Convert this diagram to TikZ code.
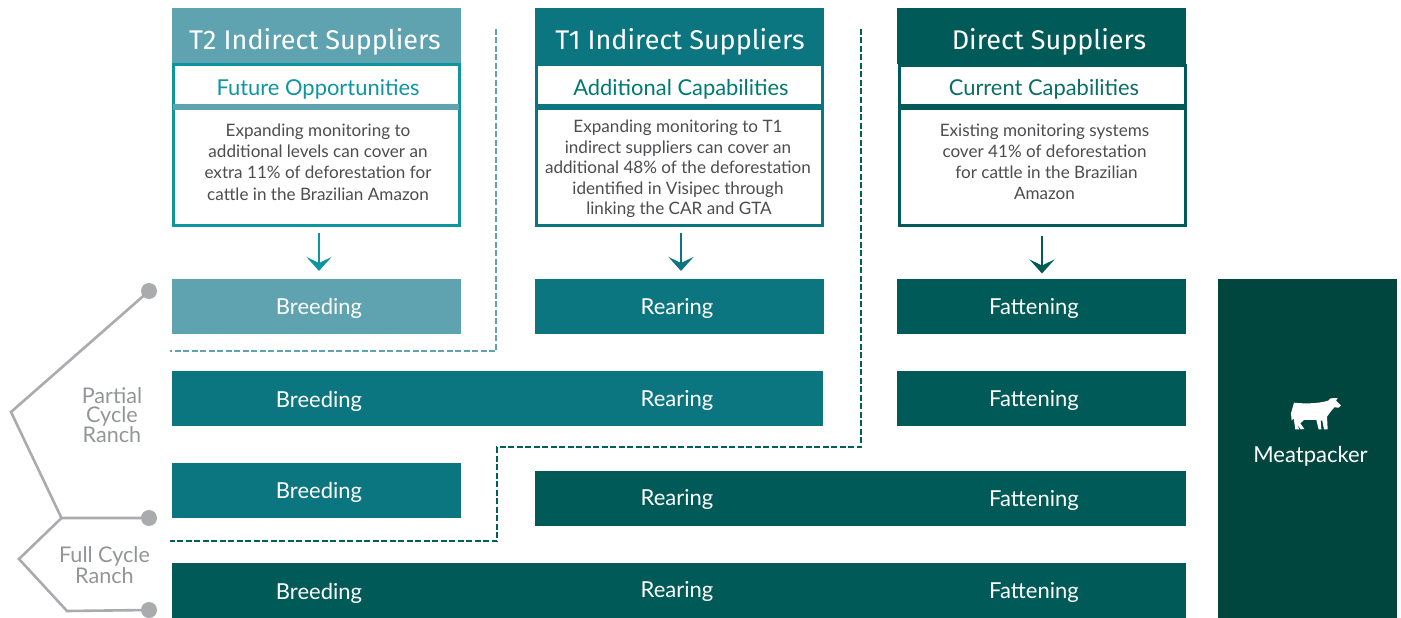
\documentclass[tikz,border=0pt]{standalone}
\usepackage{fontspec}
\setmainfont{Lato}
\newfontfamily\headfont{Fira Sans}
\usetikzlibrary{arrows.meta,calc}
\definecolor{ctwo}{HTML}{5EA3AF}
\definecolor{ctwoline}{HTML}{0E96A0}
\definecolor{cone}{HTML}{0B7580}
\definecolor{cdir}{HTML}{005A57}
\definecolor{cmeat}{HTML}{00463F}
\definecolor{cgray}{HTML}{A9ABAE}
\definecolor{cgraytxt}{HTML}{939598}
\definecolor{ctext}{HTML}{4D4D4F}
\definecolor{csubone}{HTML}{007A70}
\definecolor{csubdir}{HTML}{0A6E68}
\tikzset{
  x=1pt,y=-1pt,
  head/.style={fill=#1,minimum width=289pt,minimum height=56pt,inner sep=0pt,outer sep=0pt},
  headtxt/.style={text=white,font=\headfont\fontsize{27}{30}\selectfont,inner sep=0pt},
  frame/.style={draw=#1,line width=3pt,fill=white,minimum width=286pt,minimum height=160pt,inner sep=0pt,outer sep=0pt},
  divider/.style={draw=#1,line width=6pt},
  subtxt/.style={text=#1,font=\fontsize{21.9}{24}\selectfont,inner sep=0pt},
  bodytxt/.style={text=ctext,align=center,font=\fontsize{17.1}{21.2}\selectfont,inner sep=0pt},
  bar/.style={fill=#1,minimum height=55pt,inner sep=0pt,outer sep=0pt},
  bartxt/.style={text=white,font=\fontsize{22}{24}\selectfont,inner sep=0pt},
  downarr/.style={draw=#1,line width=2.8pt,-{Stealth[length=14pt,width=25pt,inset=6pt]}},
  dashline/.style={draw=#1,line width=2.8pt,dash pattern=on 6pt off 2.5pt},
  ranch/.style={draw=cgray,line width=2.6pt,line join=miter},
  dot/.style={circle,fill=cgray,minimum size=16pt,inner sep=0pt,outer sep=0pt},
  ranchtxt/.style={text=cgraytxt,align=center,font=\fontsize{21.6}{19}\selectfont,inner sep=0pt},
}
\begin{document}
\begin{tikzpicture}
\useasboundingbox (0,0) rectangle (1401,618);
% column headers
\node[head=ctwo] (hA) at (316.5,36) {};
\node[head=cone] (hB) at (679.5,36) {};
\node[head=cdir] (hC) at (1041.5,36) {};
\node[headtxt] (htA) at (315,41.5) {T2 Indirect Suppliers};
\node[headtxt] (htB) at (680,41.5) {T1 Indirect Suppliers};
\node[headtxt] (htC) at (1049,41.5) {Direct Suppliers};
% frames
\node[frame=ctwoline] (fA) at (316,145) {};
\node[frame=cone] (fB) at (679,145) {};
\node[frame=cdir] (fC) at (1042.5,145.5) {};
\draw[divider=ctwo] (fA.west |- 0,107) -- (fA.east |- 0,107);
\draw[divider=cone] (fB.west |- 0,107) -- (fB.east |- 0,107);
\draw[divider=cdir] (fC.west |- 0,107) -- (fC.east |- 0,107);
\node[subtxt=ctwoline] (sA) at (318,89.5) {Future Opportunities};
\node[subtxt=csubone] (sB) at (681,89.5) {Additional Capabilities};
\node[subtxt=csubdir] (sC) at (1044,89.5) {Current Capabilities};
\node[bodytxt] (tA) at (318,162) {Expanding monitoring to\\additional levels can cover an\\extra 11\% of deforestation for\\cattle in the Brazilian Amazon};
\node[bodytxt,font=\fontsize{17.1}{20.4}\selectfont] (tB) at (678,169) {Expanding monitoring to T1\\indirect suppliers can cover an\\additional 48\% of the deforestation\\identified in Visipec through\\\hspace*{2pt}linking the CAR and GTA};
\node[bodytxt] (tC) at (1044.5,162) {Existing monitoring systems\\cover 41\% of deforestation\\\hspace*{4pt}for cattle in the Brazilian\\Amazon};
% bars
\node[bar=ctwo,minimum width=289pt] (b1A) at (316.5,306.5) {};
\node[bar=cone,minimum width=289pt] (b1B) at (679.5,306.5) {};
\node[bar=cdir,minimum width=289pt] (b1C) at (1041.5,306.5) {};
\node[bar=cone,minimum width=651pt] (b2A) at (497.5,398.5) {};
\node[bar=cdir,minimum width=289pt] (b2C) at (1041.5,398.5) {};
\node[bar=cone,minimum width=289pt] (b3A) at (316.5,490.5) {};
\node[bar=cdir,minimum width=651pt] (b3B) at (860.5,498.5) {};
\node[bar=cdir,minimum width=1014pt] (b4) at (679,590.5) {};
\node[fill=cmeat,minimum width=179pt,minimum height=339pt,inner sep=0pt,outer sep=0pt] (meat) at (1307.5,448.5) {};
% bar labels
\node[bartxt] (l1A) at (319,308.5) {Breeding};
\node[bartxt] (l1B) at (677,308.5) {Rearing};
\node[bartxt] (l1C) at (1034,308.5) {Fattening};
\node[bartxt] (l2A) at (319,401.5) {Breeding};
\node[bartxt] (l2B) at (677,400.5) {Rearing};
\node[bartxt] (l2C) at (1034,400.5) {Fattening};
\node[bartxt] (l3A) at (319,492.5) {Breeding};
\node[bartxt] (l3B) at (677,499.5) {Rearing};
\node[bartxt] (l3C) at (1034,500.5) {Fattening};
\node[bartxt] (l4A) at (319,593.5) {Breeding};
\node[bartxt] (l4B) at (677,591.5) {Rearing};
\node[bartxt] (l4C) at (1034,592.5) {Fattening};
\node[bartxt] (lM) at (1310.5,456.5) {Meatpacker};
% cow
\begin{scope}[shift={(1200,370)},x=0.3333pt,y=-0.3333pt]
\fill[white] (282,98) .. controls (310,101) and (350,102) .. (385,92) -- (392,85) -- (413,84) -- (408,92) -- (423,106) -- (416,113) -- (403,112) -- (392,125) -- (381,140) -- (383,178) -- (372,178) -- (367,152) -- (362,152) -- (364,178) -- (356,178) -- (349,150) -- (312,150) -- (301,160) -- (313,177) -- (302,178) -- (290,160) -- (298,178) -- (286,178) -- (281,145) -- (275,152) -- (273,130) -- cycle;
\end{scope}
% arrows
\draw[downarr=ctwoline] ([xshift=3pt,yshift=-8pt]fA.south) -- ([xshift=2.5pt,yshift=8pt]b1A.north);
\draw[downarr=cone] ([xshift=2pt,yshift=-8pt]fB.south) -- ([xshift=1.5pt,yshift=8pt]b1B.north);
\draw[downarr=cdir] ([xshift=-.5pt,yshift=-10pt]fC.south) -- ([xshift=.5pt,yshift=5.5pt]b1C.north);
% dashed boundaries
\coordinate (dAs) at (496,29);
\coordinate (dAc) at (496,351);
\coordinate (dAe) at (170,351);
\coordinate (dBs) at (861,29);
\coordinate (dBc) at (861,447);
\coordinate (dBd) at (497,447);
\coordinate (dBf) at (497,541);
\coordinate (dBe) at (170,541);
\draw[dashline=ctwo] (dAs) -- (dAc) -- (dAe);
\draw[dashline=cdir!85!cone] (dBs) -- (dBc) -- (dBd) -- (dBf) -- (dBe);
% ranch brackets
\node[dot] (d1) at (149,291) {};
\node[dot] (d2) at (149,518) {};
\node[dot] (d3) at (149,610) {};
\coordinate (r1) at (11,412);
\coordinate (r2) at (61.5,518);
\coordinate (r3) at (19,559);
\coordinate (r4) at (67,611);
\draw[ranch] (d1.center) -- (r1) -- (r2) -- (d2.center);
\draw[ranch] (r2) -- (r3) -- (r4) -- (d3.center);
\node[ranchtxt] (rP) at (112,415) {Partial\\Cycle\\Ranch};
\node[ranchtxt] (rF) at (104.5,565) {Full Cycle\\Ranch};
\end{tikzpicture}
\end{document}
